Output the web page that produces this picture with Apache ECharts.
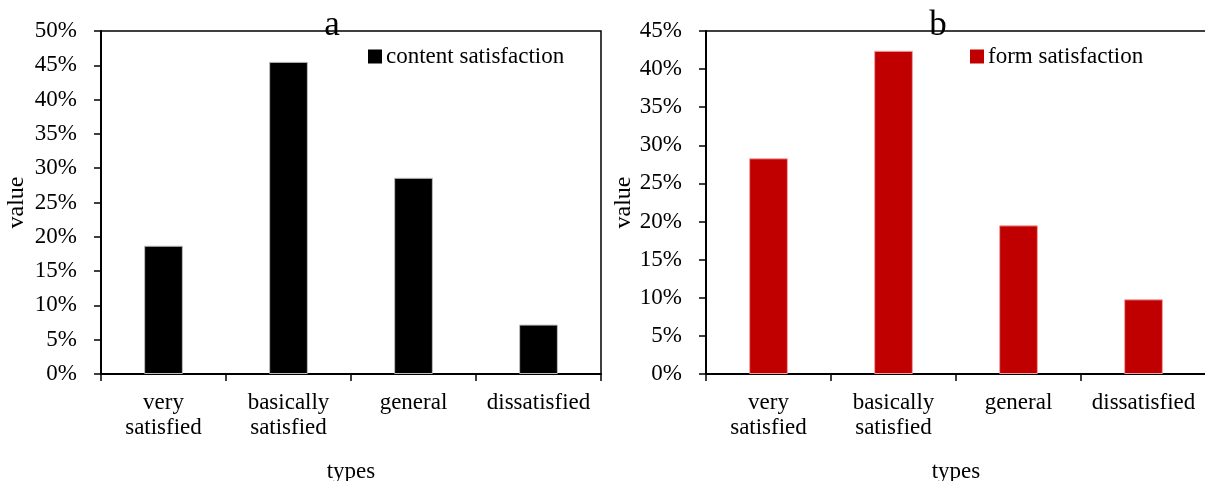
<!DOCTYPE html>
<html>
<head>
<meta charset="utf-8">
<title>Satisfaction survey</title>
<script src="https://cdn.jsdelivr.net/npm/echarts@6/dist/echarts.min.js"></script>
<style>
  html, body { margin: 0; padding: 0; background: #fff; }
  #chart { width: 1205px; height: 481px; }
</style>
</head>
<body>
<div id="chart"></div>
<script>
// Survey categories shared by both panels
const categories = ['very\nsatisfied', 'basically\nsatisfied', 'general', 'dissatisfied'];

// Panel a: content satisfaction (%)
const contentValues = [18.7, 45.5, 28.6, 7.2];
// Panel b: form satisfaction (%)
const formValues = [28.3, 42.4, 19.5, 9.8];

// Value-axis ranges
const axisMaxA = 50;
const axisMaxB = 45;
const axisStep = 5;

const FONT = "'Liberation Serif', 'Times New Roman', serif";
const FS = 23;
const chart = echarts.init(document.getElementById('chart'));

function xAxisFor(gridIndex) {
  return {
    type: 'category',
    gridIndex,
    data: categories,
    name: 'types',
    nameLocation: 'middle',
    nameGap: 86,
    nameTextStyle: { fontFamily: FONT, fontSize: FS, color: '#000' },
    axisLine: { lineStyle: { color: '#000', width: 2 } },
    axisTick: { show: true, length: 7, lineStyle: { color: '#000', width: 1.5 } },
    axisLabel: {
      fontFamily: FONT, fontSize: FS, color: '#000',
      lineHeight: 25, margin: 16, interval: 0
    },
    splitLine: { show: false }
  };
}

function yAxisFor(gridIndex, max, gap) {
  return {
    type: 'value',
    gridIndex,
    min: 0,
    max,
    interval: axisStep,
    name: 'value',
    nameLocation: 'middle',
    nameGap: gap,
    nameTextStyle: { fontFamily: FONT, fontSize: 24, color: '#000' },
    axisLine: { show: true, lineStyle: { color: '#000', width: 2 } },
    axisTick: { show: true, length: 7, lineStyle: { color: '#000', width: 1.5 } },
    axisLabel: {
      fontFamily: FONT, fontSize: FS, color: '#000', margin: 24,
      formatter: v => v + '%'
    },
    splitLine: { show: false }
  };
}

const titleStyle = { fontFamily: FONT, fontSize: 35, fontWeight: 'normal', color: '#000' };
const legendText = { fontFamily: FONT, fontSize: FS, color: '#000', padding: [0, 0, 0, -1] };

const option = {
  backgroundColor: '#fff',
  animation: false,
  title: [
    { text: 'a', left: 332, top: 8, textAlign: 'center', padding: 0, textStyle: titleStyle },
    { text: 'b', left: 938, top: 8, textAlign: 'center', padding: 0, textStyle: titleStyle }
  ],
  legend: [
    {
      data: ['content satisfaction'], left: 368, top: 45, padding: 0,
      icon: 'rect', itemWidth: 14, itemHeight: 14, itemGap: 4,
      itemStyle: { borderWidth: 0 }, textStyle: legendText
    },
    {
      data: ['form satisfaction'], left: 970, top: 45, padding: 0,
      icon: 'rect', itemWidth: 14, itemHeight: 14, itemGap: 4,
      itemStyle: { borderWidth: 0 }, textStyle: legendText
    }
  ],
  grid: [
    { left: 101, top: 31, width: 500, height: 343, show: true, outerBoundsMode: 'none',
      borderColor: '#000', borderWidth: 1.5, backgroundColor: 'transparent' },
    { left: 706, top: 31, width: 500, height: 343, show: true, outerBoundsMode: 'none',
      borderColor: '#000', borderWidth: 1.5, backgroundColor: 'transparent' }
  ],
  xAxis: [xAxisFor(0), xAxisFor(1)],
  yAxis: [yAxisFor(0, axisMaxA, 72), yAxisFor(1, axisMaxB, 69)],
  series: [
    {
      name: 'content satisfaction', type: 'bar',
      xAxisIndex: 0, yAxisIndex: 0,
      data: contentValues, barWidth: '31%',
      itemStyle: { color: '#000000', borderColor: '#bdbdbd', borderWidth: 1 }
    },
    {
      name: 'form satisfaction', type: 'bar',
      xAxisIndex: 1, yAxisIndex: 1,
      data: formValues, barWidth: '31%',
      itemStyle: { color: '#C00000', borderColor: '#f2a0a0', borderWidth: 1 }
    }
  ]
};

chart.setOption(option);
</script>
</body>
</html>
